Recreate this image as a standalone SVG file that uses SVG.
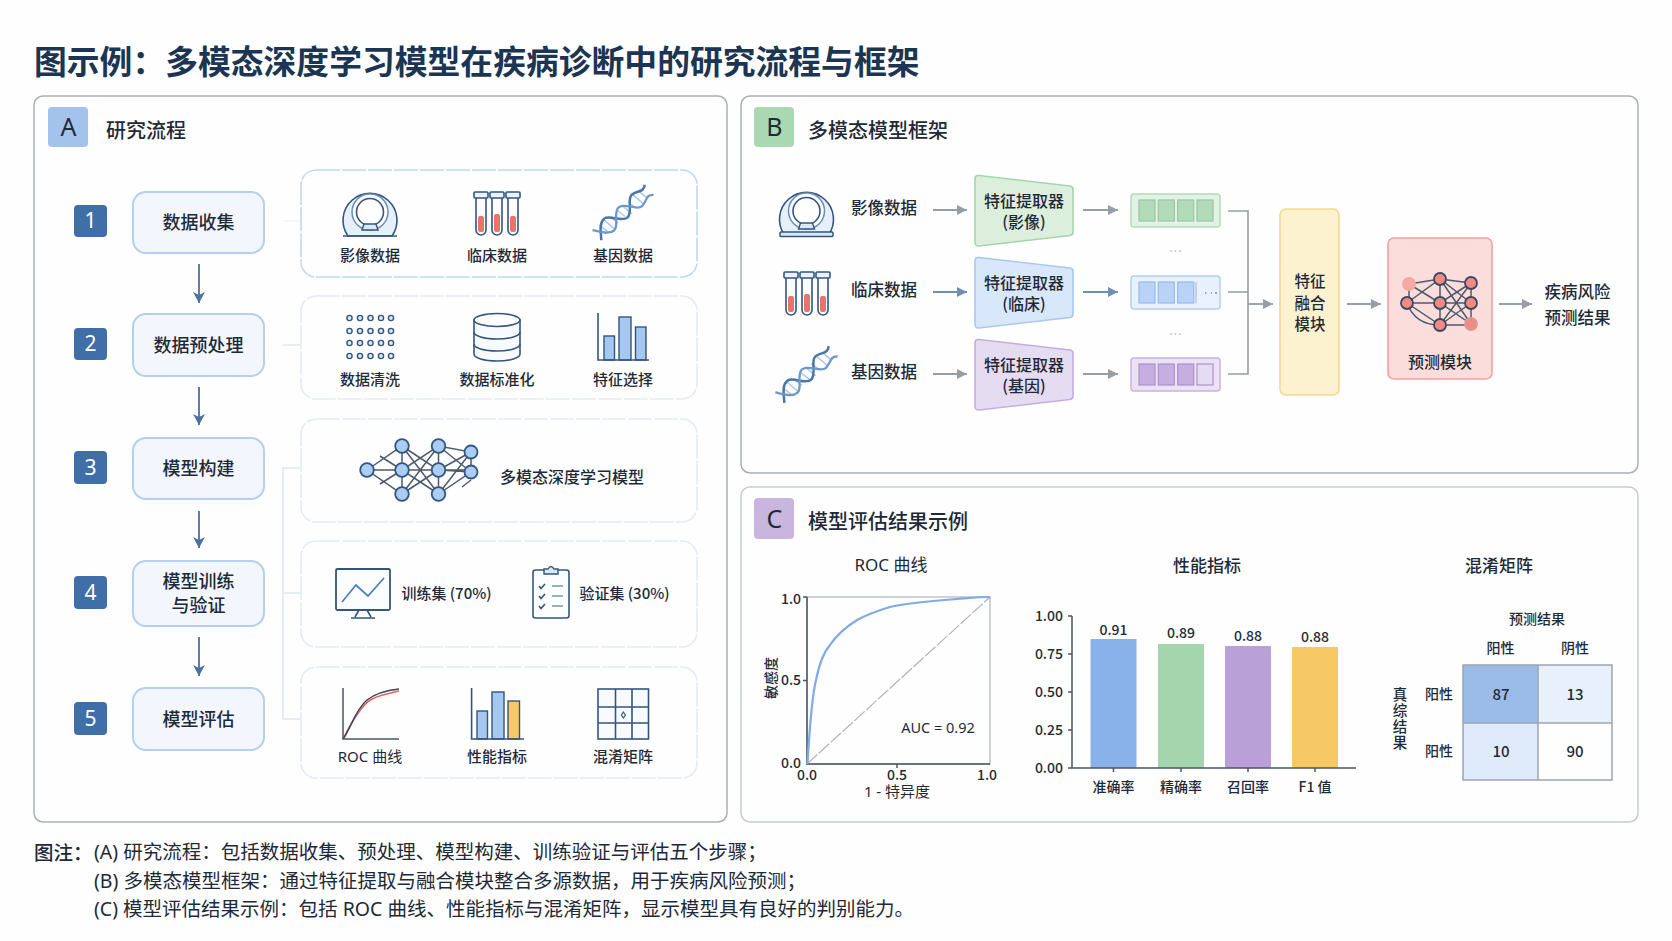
<svg xmlns="http://www.w3.org/2000/svg" xmlns:xlink="http://www.w3.org/1999/xlink" width="1672" height="941" viewBox="0 0 1672 941">
<style>
text{font-family:"Noto Sans CJK SC","Noto Sans",sans-serif;fill:#1f2a38;text-anchor:middle;dominant-baseline:central;font-weight:500}
.lat{font-family:"Noto Sans","Noto Sans CJK SC",sans-serif;font-weight:400}
.title{font-size:32.8px;font-weight:700;fill:#1b3552;text-anchor:start}
.panel{fill:#fefefe;stroke:#a9aeb8;stroke-width:1.5}
.ph{font-size:20px;text-anchor:start}
.bl{font-size:25px}
.num{fill:#3f6ea8}
.numt{font-size:21px;fill:#fff}
.step{fill:#f3f7fd;stroke:#b4cff0;stroke-width:2}
.st{font-size:18px}
.sub{fill:#fefefe;stroke:#e4ebf4;stroke-width:1.6;stroke-dasharray:24 2}
.sub1{fill:#fefefe;stroke:#c4d7ee;stroke-width:1.6;stroke-dasharray:24 2}
.l15{font-size:15px}
.l16{font-size:16px}
.l155{font-size:15.5px}
.l17{font-size:16.5px}
.l14{font-size:14px}
.ink{fill:none;stroke:#33557f;stroke-width:1.6}
.bar{fill:#a6c7ef;stroke:#33557f;stroke-width:1.4}
.nn{stroke:#4d5a6b;stroke-width:1.5;fill:none}
.nb{fill:#a9cdf3;stroke:#33557f;stroke-width:1.8}
.nr{fill:#f08a84;stroke:#3b4a5f;stroke-width:1.8}
.ga{fill:none;stroke:#4a719f;stroke-width:1.8;marker-end:url(#ma)}
.gb{fill:none;stroke:#979da5;stroke-width:1.8;marker-end:url(#mb)}
.gc{fill:none;stroke:#6f8fb5;stroke-width:1.8;marker-end:url(#mc)}
.br{fill:none;stroke:#e0e8f3;stroke-width:1.6}
.brg{fill:none;stroke:#979da5;stroke-width:1.6}
.axis{fill:none;stroke:#4c5560;stroke-width:1.5}
.cap{font-size:19.5px;text-anchor:start}
.cg{fill:#b2dcb9;stroke:#95c9a0;stroke-width:1.2}
.cb{fill:#b8d3f5;stroke:#96bbe8;stroke-width:1.2}
.cp{fill:#c7aee0;stroke:#ae90cf;stroke-width:1.2}
</style>
<defs>
<marker id="ma" viewBox="0 0 14 14" refX="12" refY="7" markerWidth="14" markerHeight="14" markerUnits="userSpaceOnUse" orient="auto"><path d="M1 1L12 7L1 13L4 7Z" fill="#4a719f"/></marker>
<marker id="mb" viewBox="0 0 12 12" refX="11" refY="6" markerWidth="12" markerHeight="12" markerUnits="userSpaceOnUse" orient="auto"><path d="M1 1L11 6L1 11Z" fill="#979da5"/></marker>
<marker id="mc" viewBox="0 0 12 12" refX="11" refY="6" markerWidth="12" markerHeight="12" markerUnits="userSpaceOnUse" orient="auto"><path d="M1 1L11 6L1 11Z" fill="#6f8fb5"/></marker>
<g id="mri">
<path d="M-22 24A27 27 0 1 1 22 24Z" fill="#e6f0fb" stroke="#33557f" stroke-width="1.6"/>
<circle cx="0" cy="0" r="18" fill="#fefefe" stroke="#6b8db5" stroke-width="1.5"/>
<circle cx="0" cy="0" r="13.5" fill="#fefefe" stroke="#33557f" stroke-width="1.6"/>
<path d="M-8 18L-6 12H6L8 18Z" fill="#dbe8f7" stroke="#33557f" stroke-width="1.4"/>
</g>
<g id="tube">
<path d="M-5 4V36A5 5 0 0 0 5 36V4" fill="#fefefe" stroke="#33557f" stroke-width="1.6"/>
<rect x="-7" y="-2" width="14" height="6" rx="1" fill="#eaf1fa" stroke="#33557f" stroke-width="1.6"/>
</g>
<g id="tubes">
<use xlink:href="#tube" href="#tube" x="-16"/><use xlink:href="#tube" href="#tube"/><use xlink:href="#tube" href="#tube" x="16"/>
<rect x="-19" y="22" width="6" height="16" rx="2" fill="#e8746c"/>
<rect x="-3" y="20" width="6" height="18" rx="2" fill="#e8746c"/>
<rect x="13" y="22" width="6" height="16" rx="2" fill="#e8746c"/>
</g>
<g id="dna">
<path d="M-27-6L-25 6M-20-7L-18 7M-13-5L-11 5M-3-5L-1 5M4-7L6 7M11-5L13 5M20-7L22 7M27-5L29 5" stroke="#a9c6e8" stroke-width="1.500" fill="none"/>
<path d="M-36 7C-30-1-26-8-19-8C-12-8-8 7 0 7S12-8 19-8C26-8 30-1 36-7" fill="none" stroke="#4a76a8" stroke-width="2.600"/>
<path d="M-36-7C-30 1-26 8-19 8C-12 8-8-7 0-7S12 8 19 8C26 8 30 1 36 7" fill="none" stroke="#6e98c8" stroke-width="2.400"/>
</g>
</defs>
<rect width="1672" height="941" fill="#fefefe"/>
<text class="title" x="34" y="59">图示例：多模态深度学习模型在疾病诊断中的研究流程与框架</text>

<g id="panel-a">
<rect class="panel" x="34" y="96" width="693" height="726" rx="9"/>
<rect x="48" y="107" width="40" height="40" rx="4" fill="#a3c3ec"/>
<text class="bl lat" x="68.5" y="126">A</text>
<text class="ph" x="106" y="129">研究流程</text>
</g>
<g id="panel-b">
<rect class="panel" x="741" y="96" width="897" height="377" rx="9"/>
<rect x="754" y="107" width="40" height="40" rx="4" fill="#a9d8b3"/>
<text class="bl lat" x="774.5" y="126">B</text>
<text class="ph" x="808" y="129">多模态模型框架</text>
</g>
<g id="panel-c">
<rect class="panel" x="741" y="487" width="897" height="335" rx="9" style="stroke:#c7cbd3"/>
<rect x="754" y="498" width="40" height="41" rx="4" fill="#c9b6de"/>
<text class="bl lat" x="774.5" y="518">C</text>
<text class="ph" x="808" y="520">模型评估结果示例</text>
</g>

<g id="connectors">
<path class="ga" d="M199 264V303"/>
<path class="ga" d="M199 387V425"/>
<path class="ga" d="M199 511V548"/>
<path class="ga" d="M199 637V676"/>
<path fill="none" stroke="#f2f5f9" stroke-width="1.5" d="M283 221H301"/>
<path class="br" d="M283 345H301M301 468H283V719H301M283 593H301"/>
<path class="gb" d="M933 210H967"/>
<path class="gc" d="M933 292H967"/>
<path class="gb" d="M933 374H967"/>
<path class="gb" d="M1083 210H1118"/>
<path class="gc" d="M1083 292H1118"/>
<path class="gb" d="M1083 374H1118"/>
<path class="brg" d="M1228 211H1248V374H1228M1228 292H1248"/>
<path class="gb" d="M1248 304H1273"/>
<path class="gb" d="M1347 304H1381"/>
<path class="gb" d="M1499 304H1532"/>
</g>

<g id="step-1"><rect class="num" x="74" y="205" width="33" height="32" rx="4"/><text class="numt lat" x="90.5" y="220">1</text><rect class="step" x="133" y="192" width="131" height="61" rx="13"/><text class="st" x="198.500" y="221">数据收集</text></g>
<g id="step-2"><rect class="num" x="74" y="328" width="33" height="32" rx="4"/><text class="numt lat" x="90.5" y="343">2</text><rect class="step" x="133" y="314" width="131" height="62" rx="13"/><text class="st" x="198.500" y="344">数据预处理</text></g>
<g id="step-3"><rect class="num" x="74" y="451" width="33" height="33" rx="4"/><text class="numt lat" x="90.5" y="467">3</text><rect class="step" x="133" y="438" width="131" height="61" rx="13"/><text class="st" x="198.500" y="467">模型构建</text></g>
<g id="step-4"><rect class="num" x="74" y="576" width="33" height="33" rx="4"/><text class="numt lat" x="90.5" y="592">4</text><rect class="step" x="133" y="561" width="131" height="65" rx="13"/><text class="st" x="198.500" y="580">模型训练</text><text class="st" x="198.500" y="604">与验证</text></g>
<g id="step-5"><rect class="num" x="74" y="702" width="33" height="33" rx="4"/><text class="numt lat" x="90.5" y="718">5</text><rect class="step" x="133" y="688" width="131" height="62" rx="13"/><text class="st" x="198.500" y="718">模型评估</text></g>

<g id="sub-1">
<rect class="sub1" x="301" y="170" width="396" height="107" rx="15"/>
<use xlink:href="#mri" href="#mri" x="370" y="212"/>
<path class="ink" d="M343 236H397"/>
<use xlink:href="#tubes" href="#tubes" x="497" y="194"/>
<use xlink:href="#dna" href="#dna" transform="translate(623 212.500) rotate(-41) scale(.96)"/>
<text class="l15" x="370" y="254">影像数据</text><text class="l15" x="497" y="254">临床数据</text><text class="l15" x="623" y="254">基因数据</text>
</g>

<g id="sub-2">
<rect class="sub" x="301" y="296" width="396" height="103" rx="15"/>
<g fill="#dbe8f7" stroke="#33557f" stroke-width="1.4">
<circle cx="349.500" cy="318" r="2.600"/><circle cx="360" cy="318" r="2.600"/><circle cx="370.500" cy="318" r="2.600"/><circle cx="381" cy="318" r="2.600"/><circle cx="391" cy="318" r="2.600"/>
<circle cx="349.500" cy="331" r="2.600"/><circle cx="360" cy="331" r="2.600"/><circle cx="370.500" cy="331" r="2.600"/><circle cx="381" cy="331" r="2.600"/><circle cx="391" cy="331" r="2.600"/>
<circle cx="349.500" cy="343" r="2.600"/><circle cx="360" cy="343" r="2.600"/><circle cx="370.500" cy="343" r="2.600"/><circle cx="381" cy="343" r="2.600"/><circle cx="391" cy="343" r="2.600"/>
<circle cx="349.500" cy="356" r="2.600"/><circle cx="360" cy="356" r="2.600"/><circle cx="370.500" cy="356" r="2.600"/><circle cx="381" cy="356" r="2.600"/><circle cx="391" cy="356" r="2.600"/>
</g>
<g class="ink"><path fill="#f7fafe" d="M474 320V354C474 358 484 361 497 361S520 358 520 354V320Z"/><ellipse cx="497" cy="320" rx="23" ry="6.500" fill="#fefefe"/><path d="M474 332C474 336 484 339 497 339S520 336 520 332M474 344C474 348 484 351 497 351S520 348 520 344"/></g>
<rect class="bar" x="604" y="336" width="10.500" height="24"/><rect class="bar" x="619" y="317" width="12" height="43"/><rect class="bar" x="635.500" y="327" width="10.500" height="33"/>
<path class="ink" d="M598 313V360H649"/>
<text class="l15" x="370" y="378">数据清洗</text><text class="l15" x="497" y="378">数据标准化</text><text class="l15" x="623" y="378">特征选择</text>
</g>

<g id="sub-3">
<rect class="sub" x="301" y="419" width="396" height="103" rx="15"/>
<path class="nn" d="M367 470L402 446L402 494L367 470H471M402 446L438.500 470L402 494L438.500 446L438.500 494L402 470L438.500 446L471 452L438.500 470L471 472L438.500 494M402 446L438.500 494M402 494L438.500 470M438.500 446L471 472M471 452V472M438.500 494L471 452M380 456L402 470M380 484L402 470M471 480L462 487"/>
<g class="nb"><circle cx="367" cy="470" r="6.800"/><circle cx="402" cy="446" r="6.800"/><circle cx="402" cy="470" r="6.800"/><circle cx="402" cy="494" r="6.800"/><circle cx="438.500" cy="446" r="6.800"/><circle cx="438.500" cy="470" r="6.800"/><circle cx="438.500" cy="494" r="6.800"/><circle cx="471" cy="452" r="6.500"/><circle cx="471" cy="472" r="6.500"/></g>
<text class="l16" x="572" y="475.500">多模态深度学习模型</text>
</g>

<g id="sub-4">
<rect class="sub" x="301" y="541" width="396" height="106" rx="15"/>
<rect x="336" y="569" width="54" height="41" rx="1.500" fill="#fbfdff" stroke="#33557f" stroke-width="1.8"/>
<path class="ink" d="M359 610L355 617M367 610L371 617M351 618H375"/>
<path fill="none" stroke="#4a7fc0" stroke-width="1.700" d="M342 602L356 585L368 596L384 578"/>
<text class="l15" x="446.500" y="592.500">训练集 (70%)</text>
<rect x="533" y="570" width="36" height="48" rx="2.500" fill="#fbfdff" stroke="#33557f" stroke-width="1.6"/>
<path d="M544 574V569H548Q551 564 554 569H558V574Z" fill="#dbe8f7" stroke="#33557f" stroke-width="1.4"/>
<path class="ink" d="M539 586L541 588.500L545 584M539 596L541 598.500L545 594M539 606L541 608.500L545 604"/>
<path fill="none" stroke="#7d94ad" stroke-width="1.5" d="M552 586H563M552 596H563M552 606H563"/>
<text class="l15" x="624.500" y="592.500">验证集 (30%)</text>
</g>

<g id="sub-5">
<rect class="sub" x="301" y="667" width="396" height="111" rx="15"/>
<path fill="none" stroke="#e5655c" stroke-width="1.500" d="M343 739C352 722 362 704 372 699C380 695 390 693 399 691"/>
<path fill="none" stroke="#3a4757" stroke-width="1.500" d="M343 739C350 730 355 710 367 700C377 692 390 690 399 689"/>
<path class="axis" d="M343 688V739H399"/>
<rect class="bar" x="477" y="711" width="10.500" height="28"/><rect class="bar" x="492" y="692" width="12" height="47"/><rect x="508" y="701" width="11.500" height="38" fill="#f7c964" stroke="#33557f" stroke-width="1.4"/>
<path class="ink" d="M471.600 688V739H524"/>
<rect x="598" y="689" width="50.500" height="50" fill="#f8fbfe" stroke="#33557f" stroke-width="1.600"/>
<path class="ink" d="M615.500 689V739M632 689V739M598 707H648.500M598 723H648.500"/>
<path d="M623.400 712L625.400 715L623.400 718L621.400 715Z" fill="none" stroke="#33557f" stroke-width="1.200"/>
<text class="l15 lat" x="370" y="755.500">ROC 曲线</text><text class="l15" x="497" y="755.500">性能指标</text><text class="l15" x="623" y="755.500">混淆矩阵</text>
</g>

<g id="b-image">
<use xlink:href="#mri" href="#mri" x="806.5" y="211"/>
<rect x="780" y="232" width="53" height="4.500" rx="1" fill="#dbe8f7" stroke="#33557f" stroke-width="1.500"/>
<text class="l17" x="884" y="207">影像数据</text>
</g>
<g id="b-clinical">
<use xlink:href="#tubes" href="#tubes" x="807" y="274"/>
<text class="l17" x="884" y="289">临床数据</text>
</g>
<g id="b-gene">
<use xlink:href="#dna" href="#dna" transform="translate(806.500 374.500) rotate(-41) scale(.98)"/>
<text class="l17" x="884" y="371">基因数据</text>
</g>

<g id="extractor-image"><path d="M975 179Q975 175 979 175.500L1070 186Q1073 186.500 1073 189V232Q1073 235 1070 235.500L979 246Q975 246.500 975 242Z" fill="#dcefdc" stroke="#a5d5ac" stroke-width="1.600"/><text class="l16" x="1024" y="200">特征提取器</text><text class="l16" x="1024" y="221">(影像)</text></g>
<g id="extractor-clinical"><path d="M975 261Q975 257 979 257.500L1070 268Q1073 268.500 1073 271V314Q1073 317 1070 317.500L979 328Q975 328.500 975 324Z" fill="#d9e7fa" stroke="#a8c8f0" stroke-width="1.600"/><text class="l16" x="1024" y="282">特征提取器</text><text class="l16" x="1024" y="303">(临床)</text></g>
<g id="extractor-gene"><path d="M975 343Q975 339 979 339.500L1070 350Q1073 350.500 1073 353V396Q1073 399 1070 399.500L979 410Q975 410.500 975 406Z" fill="#e6dcf2" stroke="#c6addf" stroke-width="1.600"/><text class="l16" x="1024" y="364">特征提取器</text><text class="l16" x="1024" y="385">(基因)</text></g>

<g id="feature-image"><rect x="1131" y="194" width="89" height="33" rx="3" fill="#e3f2e4" stroke="#b3dbb8" stroke-width="1.500"/><rect class="cg" x="1139" y="200" width="16" height="21"/><rect class="cg" x="1158.300" y="200" width="16" height="21"/><rect class="cg" x="1177.700" y="200" width="16" height="21"/><rect class="cg" x="1197" y="200" width="16" height="21"/></g>
<g id="feature-clinical"><rect x="1131" y="276" width="89" height="33" rx="3" fill="#e9f1fc" stroke="#b3cff0" stroke-width="1.500"/><rect class="cb" x="1139" y="282" width="16" height="21"/><rect class="cb" x="1158.300" y="282" width="16" height="21"/><rect class="cb" x="1177.700" y="282" width="16" height="21"/><path d="M1196 282V303" stroke="#9bb3cf" stroke-width="1"/><path d="M1205 293H1206.500M1211 293H1212M1215 293H1217" stroke="#4a5a70" stroke-width="1.200"/></g>
<g id="feature-gene"><rect x="1131" y="358" width="89" height="33" rx="3" fill="#ebe2f4" stroke="#c9b2e2" stroke-width="1.500"/><rect class="cp" x="1139" y="364" width="16" height="21"/><rect class="cp" x="1158.300" y="364" width="16" height="21"/><rect class="cp" x="1177.700" y="364" width="16" height="21"/><rect x="1197" y="364" width="16" height="21" fill="#e6dcf2" stroke="#ae90cf" stroke-width="1.200"/></g>
<g id="ellipsis" fill="#bcc2c9"><circle cx="1171" cy="251" r=".9"/><circle cx="1175.500" cy="251" r=".9"/><circle cx="1180" cy="251" r=".9"/><circle cx="1171" cy="334" r=".9"/><circle cx="1175.500" cy="334" r=".9"/><circle cx="1180" cy="334" r=".9"/></g>

<g id="fusion"><rect x="1280" y="209" width="59" height="186" rx="6" fill="#fdf2cf" stroke="#f6d88e" stroke-width="1.600"/><text class="l155" x="1310" y="279.500">特征</text><text class="l155" x="1310" y="301.500">融合</text><text class="l155" x="1310" y="323">模块</text></g>
<g id="prediction">
<rect x="1388" y="238" width="104" height="141" rx="6" fill="#fbdedc" stroke="#f0a3a0" stroke-width="1.600"/>
<path class="nn" d="M1409 284L1440 279L1471 283M1407 303L1440 279L1471 303M1409 284L1440 303L1471 324M1407 303H1471M1407 303L1440 325L1471 283M1440 279L1471 324M1440 303L1471 283M1440 325L1471 303M1440 325H1471M1471 283V324M1409 284V303M1440 279V325M1407 303Q1415 325 1440 325"/>
<g class="nr"><circle cx="1409" cy="284" r="6" stroke="#f4a8a2" fill="#f6aaa5"/><circle cx="1440" cy="279" r="6"/><circle cx="1471" cy="283" r="6"/><circle cx="1407" cy="303" r="6"/><circle cx="1440" cy="303" r="6"/><circle cx="1471" cy="303" r="6"/><circle cx="1440" cy="325" r="6"/><circle cx="1471" cy="324" r="6" stroke="#d99a97"/></g>
<text class="l16" x="1440" y="360.500">预测模块</text>
</g>
<g id="result"><text class="l17" x="1577.500" y="290.500">疾病风险</text><text class="l17" x="1577.500" y="317">预测结果</text></g>

<g id="roc">
<text class="lat" style="font-size:17px" x="891" y="564">ROC 曲线</text>
<rect x="807" y="597" width="183" height="167" fill="#fefefe" stroke="#aeb3ba" stroke-width="1.200"/>
<path d="M807 764L990 597" fill="none" stroke="#aeb3ba" stroke-width="1.200" stroke-dasharray="14 2"/>
<path class="axis" d="M807 597V764H990M803 597H807M803 680.500H807M897 764V768"/>
<path fill="none" stroke="#7fabe6" stroke-width="2.200" d="M807.500 764C809 740 811 700 816 680C819 665 824 652 830 645C836 636 846 627 857 620C870 613 880 610 890 607C905 603 930 601 957 599C970 598 980 597 990 597"/>
<g class="l14 lat"><text x="791" y="598">1.0</text><text x="791" y="679">0.5</text><text x="791" y="762">0.0</text><text x="807" y="774">0.0</text><text x="897" y="774">0.5</text><text x="987" y="774">1.0</text></g>
<text class="l15 lat" style="font-size:14.500px" x="938" y="727">AUC = 0.92</text>
<text class="l15 lat" x="897" y="791">1 - 特异度</text>
<text class="l14" transform="translate(770 678) rotate(-90)">敏感度</text>
</g>

<g id="metrics">
<text style="font-size:17px" x="1207" y="564">性能指标</text>
<rect x="1090.500" y="639" width="46" height="129" fill="#8ab2ea"/>
<rect x="1158" y="644" width="46" height="124" fill="#a5d5ac"/>
<rect x="1225" y="646" width="46" height="122" fill="#b9a0d6"/>
<rect x="1292" y="647" width="46" height="121" fill="#f7c964"/>
<path class="axis" d="M1072 616V768H1356M1068 616H1072M1068 654H1072M1068 692H1072M1068 730H1072M1068 768H1072M1113.500 768V772M1181 768V772M1248 768V772M1315 768V772"/>
<g class="l14 lat"><text style="text-anchor:end" x="1063" y="615">1.00</text><text style="text-anchor:end" x="1063" y="653">0.75</text><text style="text-anchor:end" x="1063" y="691">0.50</text><text style="text-anchor:end" x="1063" y="729">0.25</text><text style="text-anchor:end" x="1063" y="767">0.00</text></g>
<g class="l14 lat"><text x="1113.500" y="629">0.91</text><text x="1181" y="632">0.89</text><text x="1248" y="635">0.88</text><text x="1315" y="636">0.88</text></g>
<g class="l14 lat"><text x="1113.500" y="786">准确率</text><text x="1181" y="786">精确率</text><text x="1248" y="786">召回率</text><text x="1315" y="786">F1 值</text></g>
</g>

<g id="confusion">
<text style="font-size:17px" x="1499" y="564">混淆矩阵</text>
<text class="l14" x="1537" y="618">预测结果</text>
<text class="l14" x="1500.500" y="647">阳性</text><text class="l14" x="1575" y="647">阴性</text>
<rect x="1463" y="665" width="75" height="58" fill="#9bbce9"/>
<rect x="1538" y="665" width="74" height="58" fill="#e8f0fb"/>
<rect x="1463" y="723" width="75" height="57" fill="#dfeafa"/>
<rect x="1538" y="723" width="74" height="57" fill="#fefefe"/>
<path fill="none" stroke="#9aa5b1" stroke-width="1.500" d="M1463 665H1612V780H1463ZM1538 665V780M1463 723H1612"/>
<g class="l15 lat"><text x="1501" y="693">87</text><text x="1575" y="693">13</text><text x="1501" y="750">10</text><text x="1575" y="750">90</text></g>
<text class="l14" x="1439" y="693">阳性</text><text class="l14" x="1439" y="750">阳性</text>
<text class="l14" x="1400" y="719" style="writing-mode:vertical-rl;letter-spacing:1.500px;font-size:14.500px">真综结果</text>
</g>

<g id="caption">
<text class="cap" x="34" y="851">图注：</text>
<text class="cap lat" x="94" y="851">(A) 研究流程：包括数据收集、预处理、模型构建、训练验证与评估五个步骤；</text>
<text class="cap lat" x="94" y="880">(B) 多模态模型框架：通过特征提取与融合模块整合多源数据，用于疾病风险预测；</text>
<text class="cap lat" x="94" y="908.500">(C) 模型评估结果示例：包括 ROC 曲线、性能指标与混淆矩阵，显示模型具有良好的判别能力。</text>
</g>
</svg>
